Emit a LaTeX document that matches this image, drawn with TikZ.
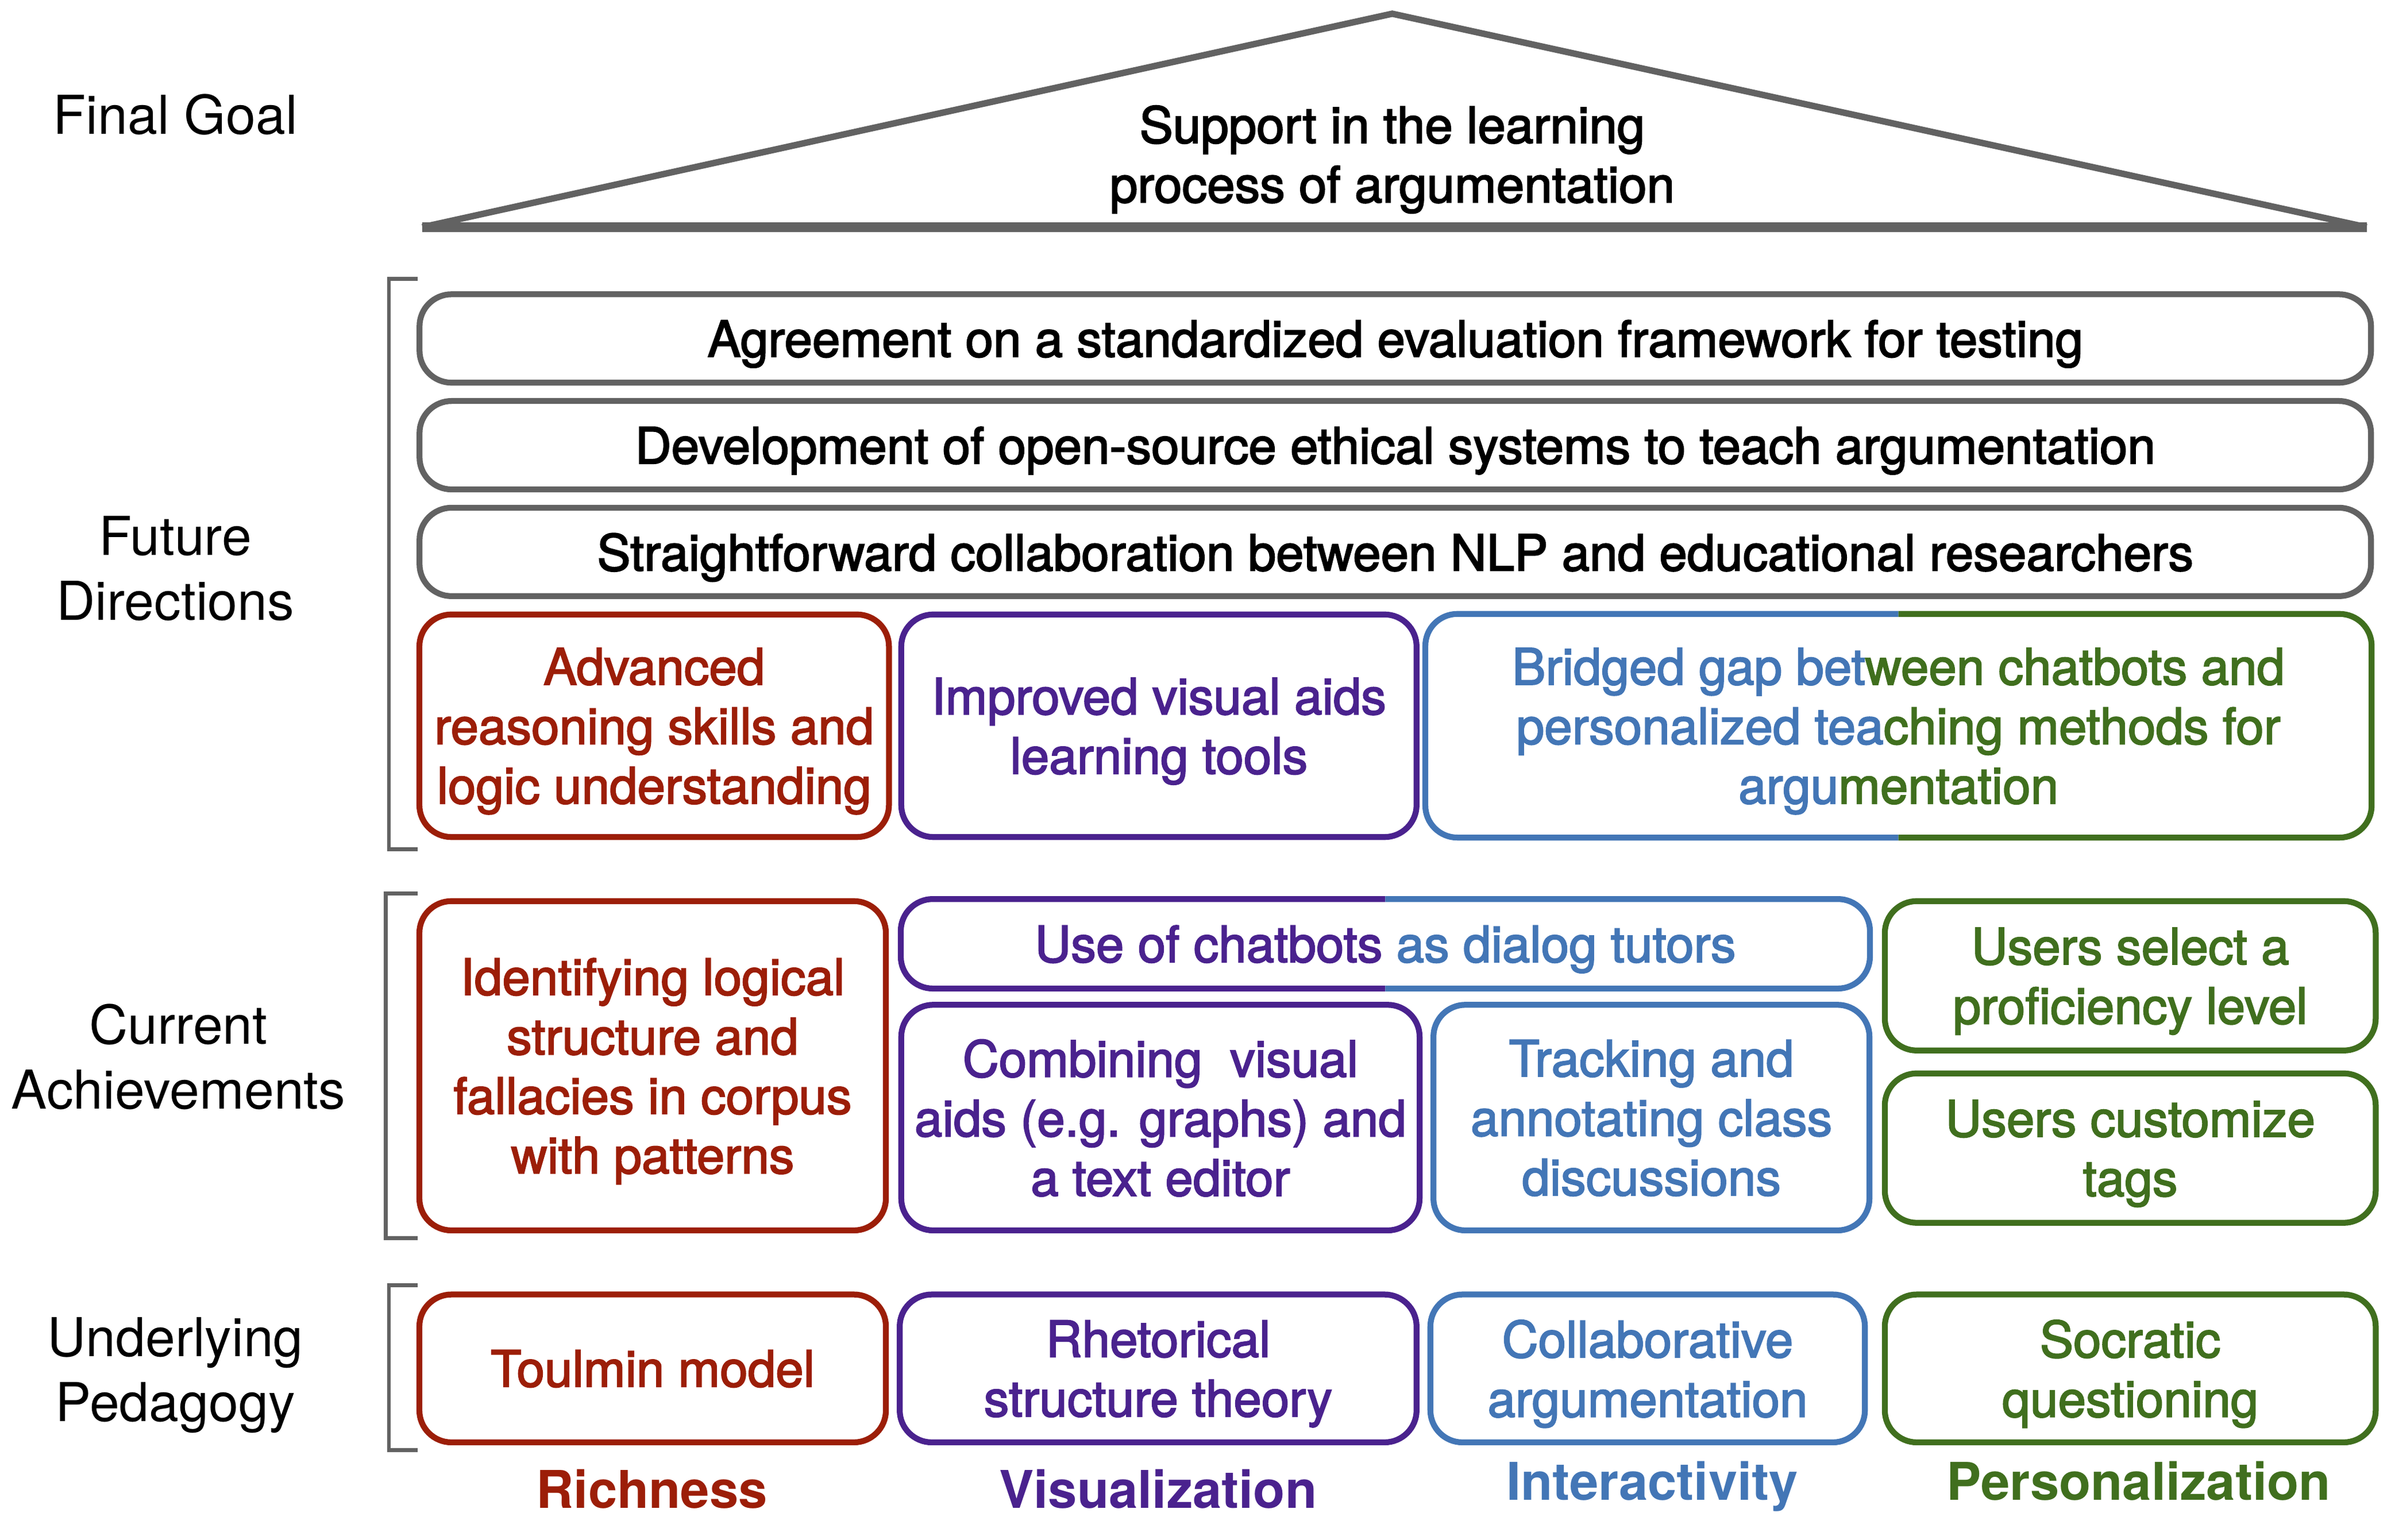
\documentclass[tikz,border=0pt]{standalone}
\usepackage{fontspec}
\setmainfont{TeX Gyre Heros}
\newfontfamily\medfont[FakeBold=2.4]{TeX Gyre Heros}
\usetikzlibrary{calc}
\definecolor{cred}{RGB}{156,30,8}
\definecolor{cpurple}{RGB}{74,34,142}
\definecolor{cblue}{RGB}{67,118,182}
\definecolor{cgreen}{RGB}{64,111,30}
\definecolor{cgray}{RGB}{98,98,98}
\begin{document}
\begin{tikzpicture}[x=0.02cm,y=-0.02cm,
  box/.style={draw, line width=2.2pt, rounded corners=0.42cm, align=center, inner sep=0pt,
    text depth=0pt, font=\medfont\fontsize{18.7}{22.2}\selectfont},
  boxtext/.style={align=center, inner sep=0pt, text depth=0pt,
    font=\medfont\fontsize{18.7}{22.2}\selectfont},
  half/.style={line width=2.2pt, rounded corners=0.42cm},
  lab/.style={align=center, inner sep=0pt, font=\fontsize{20}{24.2}\selectfont},
  pillar/.style={anchor=base, inner sep=0pt, font=\bfseries\fontsize{19.4}{23}\selectfont},
  bracket/.style={draw=cgray, line width=1.4pt},
  roof/.style={draw=cgray, line width=2.4pt}]
\useasboundingbox (0,0) rectangle (1568,1010);

% roof
\coordinate (rl) at (277,149);
\coordinate (ra) at (913,9);
\coordinate (rr) at (1552,149);
\draw[roof, line join=miter] (rl) -- (ra) -- (rr);
\draw[roof, line width=3.6pt] (rl) -- (rr);
\node[boxtext, text=black] (goal) at (913,101) {Support in the learning\\process of argumentation};

% left labels
\node[lab] (lfg) at (115,75) {Final Goal};
\node[lab] (lfd) at (115,373) {Future\\Directions};
\node[lab] (lca) at (117,693) {Current\\Achievements};
\node[lab] (lup) at (115,902) {Underlying\\Pedagogy};

% brackets
\draw[bracket] (274,183) -- (255,183) -- (255,557) -- (274,557);
\draw[bracket] (274,586) -- (253,586) -- (253,812) -- (274,812);
\draw[bracket] (274,843) -- (255,843) -- (255,951) -- (274,951);

% future directions
\node[box, draw=cgray, text=black, minimum width=25.6cm, minimum height=1.16cm] (fd1) at (915,222)
  {Agreement on a standardized evaluation framework for testing};
\node[box, draw=cgray, text=black, minimum width=25.6cm, minimum height=1.16cm] (fd2) at (915,292)
  {Development of open-source ethical systems to teach argumentation};
\node[box, draw=cgray, text=black, minimum width=25.6cm, minimum height=1.16cm] (fd3) at (915,362)
  {Straightforward collaboration between NLP and educational researchers};
\node[box, cred, minimum width=6.16cm, minimum height=2.92cm] (fdr) at (429,476)
  {Advanced\\reasoning skills and\\logic understanding};
\node[box, cpurple, minimum width=6.76cm, minimum height=2.92cm] (fdp) at (760,476)
  {Improved visual aids\\learning tools};
\node[boxtext, minimum width=12.4cm, minimum height=2.92cm] (fdbg) at (1245,476)
  {{\color{cblue}Bridged gap bet}{\color{cgreen}ween chatbots and}\\
   {\color{cblue}personalized tea}{\color{cgreen}ching methods for}\\
   {\color{cblue}argu}{\color{cgreen}mentation}};
\draw[half, cblue] (fdbg.north) -- (fdbg.north west) -- (fdbg.south west) -- (fdbg.south);
\draw[half, cgreen] (fdbg.north) -- (fdbg.north east) -- (fdbg.south east) -- (fdbg.south);

% current achievements
\node[box, cred, minimum width=6.12cm, minimum height=4.32cm] (car) at (428,699)
  {Identifying logical\\structure and\\fallacies in corpus\\with patterns};
\node[boxtext, minimum width=12.7cm, minimum height=1.16cm] (cauc) at (908.5,619)
  {{\color{cpurple}Use of chatbots }{\color{cblue}as dialog tutors}};
\draw[half, cpurple] (cauc.north) -- (cauc.north west) -- (cauc.south west) -- (cauc.south);
\draw[half, cblue] (cauc.north) -- (cauc.north east) -- (cauc.south east) -- (cauc.south);
\node[box, cpurple, minimum width=6.8cm, minimum height=2.96cm] (cap) at (761,733)
  {Combining~ visual\\aids (e.g. graphs) and\\a text editor};
\node[box, cblue, minimum width=5.72cm, minimum height=2.96cm] (cab) at (1083,733)
  {Tracking and\\annotating class\\discussions};
\node[box, cgreen, minimum width=6.44cm, minimum height=1.96cm] (cag1) at (1397,640)
  {Users select a\\proficiency level};
\node[box, cgreen, minimum width=6.44cm, minimum height=1.96cm] (cag2) at (1397,753)
  {Users customize\\tags};

% underlying pedagogy
\node[box, cred, minimum width=6.12cm, minimum height=1.94cm] (upr) at (428,897.5)
  {Toulmin model};
\node[box, cpurple, minimum width=6.78cm, minimum height=1.94cm] (upp) at (759.5,897.5)
  {Rhetorical\\structure theory};
\node[box, cblue, minimum width=5.7cm, minimum height=1.94cm] (upb) at (1080.5,897.5)
  {Collaborative\\argumentation};
\node[box, cgreen, minimum width=6.44cm, minimum height=1.94cm] (upg) at (1397,897.5)
  {Socratic\\questioning};

% pillars
\node[pillar, text=cred] (pr) at (427.5,989) {Richness};
\node[pillar, text=cpurple] (pp) at (759.5,989) {Visualization};
\node[pillar, text=cblue] (pb) at (1083.5,984) {Interactivity};
\node[pillar, text=cgreen] (pg) at (1402.5,984) {Personalization};
\end{tikzpicture}
\end{document}
